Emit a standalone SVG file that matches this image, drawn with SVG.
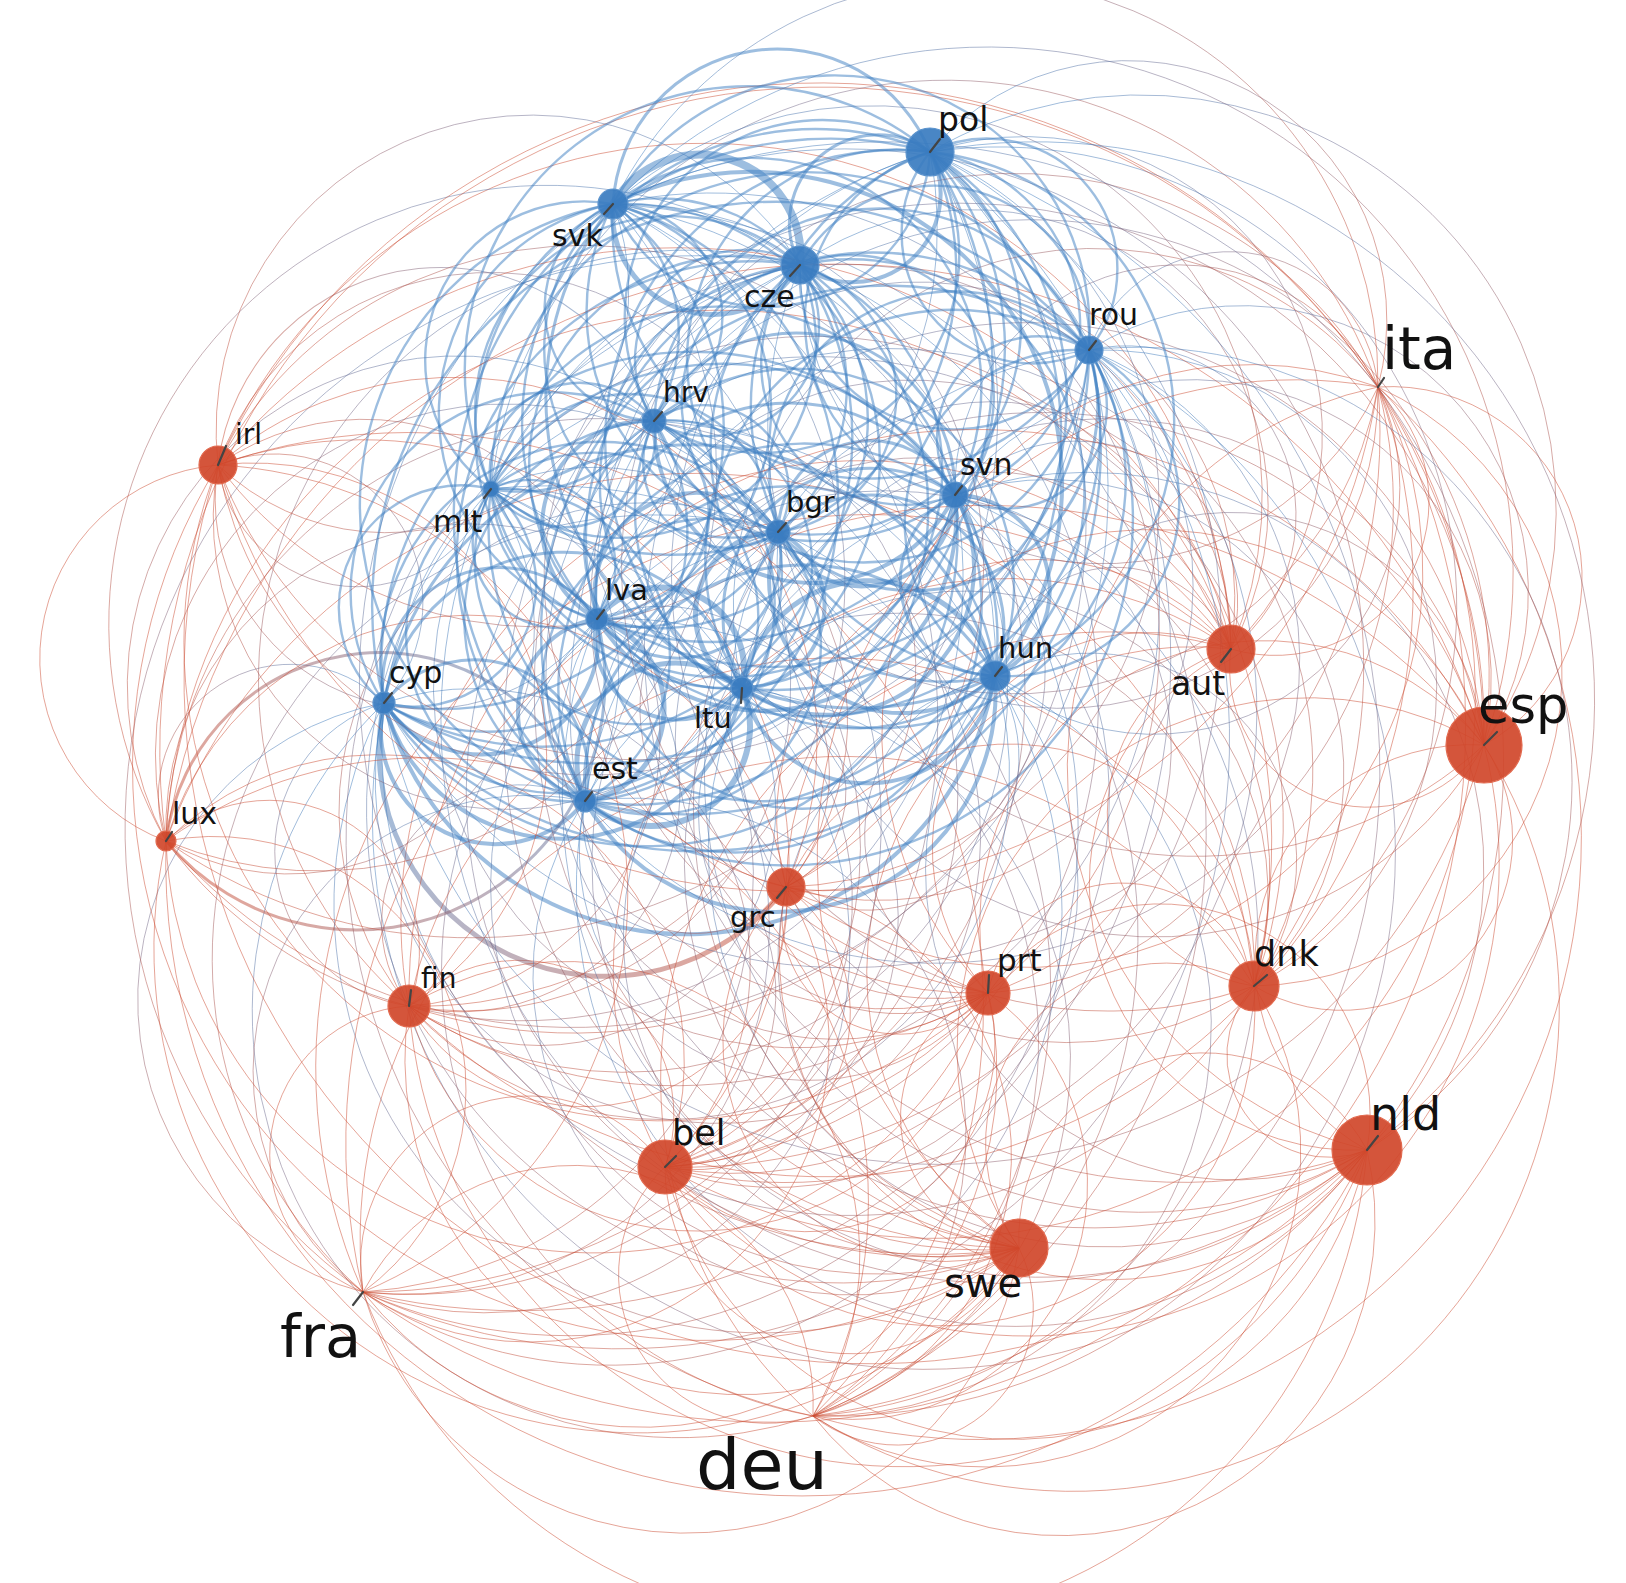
<svg xmlns="http://www.w3.org/2000/svg" width="1626" height="1583" viewBox="0 0 1626 1583">
<style>
.bb{stroke:#3b7dc1;stroke-opacity:.5;stroke-width:2.4}
.rr{stroke:#cb4a30;stroke-opacity:.5;stroke-width:1}
.br{stroke:url(#gbr);stroke-opacity:.5;stroke-width:1}
.rb{stroke:url(#grb);stroke-opacity:.5;stroke-width:1}
.w3{stroke-width:3}.w4{stroke-width:4}.w5{stroke-width:5}.w6{stroke-width:6}.w8{stroke-width:8}
.nr{fill:#d0462a;fill-opacity:.92;stroke:#e2694e;stroke-width:1.2}
.nb{fill:#3a7cc0;fill-opacity:.92;stroke:#5b93cd;stroke-width:1.2}
.tk{stroke:#444;stroke-width:2.2;stroke-linecap:round}
text{font-family:"DejaVu Sans",Verdana,sans-serif;fill:#111}
</style>
<defs>
<path id="e" d="M0 0A.5125 .5125 0 0 0 1 0" fill="none" style="vector-effect:non-scaling-stroke"/>
<path id="f" d="M0 0A.5125 .5125 0 0 1 1 0" fill="none" style="vector-effect:non-scaling-stroke"/>
<linearGradient id="gbr" gradientUnits="userSpaceOnUse" x1="0" y1="0" x2="1" y2="0"><stop offset="0" stop-color="#3b7dc1"/><stop offset="1" stop-color="#cb4a30"/></linearGradient>
<linearGradient id="grb" gradientUnits="userSpaceOnUse" x1="0" y1="0" x2="1" y2="0"><stop offset="0" stop-color="#cb4a30"/><stop offset="1" stop-color="#3b7dc1"/></linearGradient>
</defs>
<rect width="1626" height="1583" fill="#fff"/>
<g id="connectors">
<g transform="translate(1231 649)">
<use href="#e" class="rr" transform="matrix(-566 518 -518 -566 0 0)"/>
<use href="#e" class="rb" transform="matrix(-453 -117 117 -453 0 0)"/>
<use href="#e" class="rb" transform="matrix(-847 54 -54 -847 0 0)"/>
<use href="#e" class="rb" transform="matrix(-431 -384 384 -431 0 0)"/>
<use href="#e" class="rr" transform="matrix(-418 767 -767 -418 0 0)"/>
<use href="#e" class="rr" transform="matrix(23 337 -337 23 0 0)"/>
<use href="#e" class="rr" transform="matrix(253 96 -96 253 0 0)"/>
<use href="#e" class="rb" transform="matrix(-646 152 -152 -646 0 0)"/>
<use href="#e" class="rr" transform="matrix(-822 357 -357 -822 0 0)"/>
<use href="#e" class="rr" transform="matrix(-868 643 -643 -868 0 0)"/>
<use href="#e" class="rr" transform="matrix(-445 238 -238 -445 0 0)"/>
<use href="#e" class="rb" transform="matrix(-577 -228 228 -577 0 0)"/>
<use href="#e" class="rb" transform="matrix(-236 27 -27 -236 0 0)"/>
<use href="#e" class="rr" transform="matrix(-1013 -184 184 -1013 0 0)"/>
<use href="#e" class="rr" transform="matrix(147 -262 262 147 0 0)"/>
<use href="#e" class="rb" transform="matrix(-489 39 -39 -489 0 0)"/>
<use href="#e" class="rr" transform="matrix(-1065 192 -192 -1065 0 0)"/>
<use href="#e" class="rb" transform="matrix(-634 -30 30 -634 0 0)"/>
<use href="#e" class="rb" transform="matrix(-740 -160 160 -740 0 0)"/>
<use href="#e" class="rr" transform="matrix(136 501 -501 136 0 0)"/>
<use href="#e" class="rb" transform="matrix(-301 -497 497 -301 0 0)"/>
<use href="#e" class="rr" transform="matrix(-243 344 -344 -243 0 0)"/>
<use href="#e" class="rb" transform="matrix(-142 -299 299 -142 0 0)"/>
<use href="#e" class="rb" transform="matrix(-618 -445 445 -618 0 0)"/>
<use href="#e" class="rb" transform="matrix(-276 -154 154 -276 0 0)"/>
<use href="#e" class="rr" transform="matrix(-212 599 -599 -212 0 0)"/>
</g>
<g transform="translate(665 1167)">
<use href="#e" class="rb" transform="matrix(113 -635 635 113 0 0)"/>
<use href="#e" class="rb" transform="matrix(-281 -464 464 -281 0 0)"/>
<use href="#e" class="rb" transform="matrix(135 -902 902 135 0 0)"/>
<use href="#e" class="rr" transform="matrix(148 249 -249 148 0 0)"/>
<use href="#e" class="rr" transform="matrix(589 -181 181 589 0 0)"/>
<use href="#e" class="rr" transform="matrix(819 -422 422 819 0 0)"/>
<use href="#e" class="rb" transform="matrix(-80 -366 366 -80 0 0)"/>
<use href="#e" class="rr" transform="matrix(-256 -161 161 -256 0 0)"/>
<use href="#e" class="rr" transform="matrix(-302 125 -125 -302 0 0)"/>
<use href="#e" class="rr" transform="matrix(121 -280 280 121 0 0)"/>
<use href="#e" class="rb" transform="matrix(-11 -746 746 -11 0 0)"/>
<use href="#e" class="rb" transform="matrix(330 -491 491 330 0 0)"/>
<use href="#e" class="rr" transform="matrix(-447 -702 702 -447 0 0)"/>
<use href="#e" class="rr" transform="matrix(713 -780 780 713 0 0)"/>
<use href="#e" class="rb" transform="matrix(77 -479 479 77 0 0)"/>
<use href="#e" class="rr" transform="matrix(-499 -326 326 -499 0 0)"/>
<use href="#e" class="rb" transform="matrix(-68 -548 548 -68 0 0)"/>
<use href="#e" class="rb" transform="matrix(-174 -678 678 -174 0 0)"/>
<use href="#e" class="rr" transform="matrix(702 -17 17 702 0 0)"/>
<use href="#e" class="rb" transform="matrix(265 -1015 1015 265 0 0)"/>
<use href="#e" class="rr" transform="matrix(323 -174 174 323 0 0)"/>
<use href="#e" class="rb" transform="matrix(424 -817 817 424 0 0)"/>
<use href="#e" class="rb" transform="matrix(-52 -963 963 -52 0 0)"/>
<use href="#e" class="rb" transform="matrix(290 -672 672 290 0 0)"/>
<use href="#e" class="rr" transform="matrix(354 81 -81 354 0 0)"/>
</g>
<g transform="translate(778 532)">
<use href="#e" class="bb" transform="matrix(-394 171 -171 -394 0 0)"/>
<use href="#e" class="bb" transform="matrix(22 -267 267 22 0 0)"/>
<use href="#e" class="br" transform="matrix(35 884 -884 35 0 0)"/>
<use href="#e" class="br" transform="matrix(476 454 -454 476 0 0)"/>
<use href="#e" class="br" transform="matrix(706 213 -213 706 0 0)"/>
<use href="#e" class="bb" transform="matrix(-193 269 -269 -193 0 0)"/>
<use href="#e" class="br" transform="matrix(-369 474 -474 -369 0 0)"/>
<use href="#e" class="br" transform="matrix(-415 760 -760 -415 0 0)"/>
<use href="#e" class="br" transform="matrix(8 355 -355 8 0 0)"/>
<use href="#e" class="bb" transform="matrix(-124 -111 111 -124 0 0)"/>
<use href="#e" class="bb w4" transform="matrix(217 144 -144 217 0 0)"/>
<use href="#e" class="br" transform="matrix(-560 -67 67 -560 0 0)"/>
<use href="#e" class="br" transform="matrix(600 -145 145 600 0 0)"/>
<use href="#e" class="bb w5" transform="matrix(-36 156 -156 -36 0 0)"/>
<use href="#e" class="br" transform="matrix(-612 309 -309 -612 0 0)"/>
<use href="#e" class="bb w4" transform="matrix(-181 87 -87 -181 0 0)"/>
<use href="#e" class="bb" transform="matrix(-287 -43 43 -287 0 0)"/>
<use href="#e" class="br" transform="matrix(589 618 -618 589 0 0)"/>
<use href="#e" class="bb" transform="matrix(152 -380 380 152 0 0)"/>
<use href="#e" class="br" transform="matrix(210 461 -461 210 0 0)"/>
<use href="#e" class="bb w3" transform="matrix(311 -182 182 311 0 0)"/>
<use href="#e" class="bb" transform="matrix(-165 -328 328 -165 0 0)"/>
<use href="#e" class="bb w4" transform="matrix(177 -37 37 177 0 0)"/>
<use href="#e" class="br" transform="matrix(241 716 -716 241 0 0)"/>
</g>
<g transform="translate(384 703)">
<use href="#e" class="bb" transform="matrix(416 -438 438 416 0 0)"/>
<use href="#e" class="br" transform="matrix(429 713 -713 429 0 0)"/>
<use href="#e" class="br" transform="matrix(870 283 -283 870 0 0)"/>
<use href="#e" class="br" transform="matrix(1100 42 -42 1100 0 0)"/>
<use href="#e" class="bb w4" transform="matrix(201 98 -98 201 0 0)"/>
<use href="#e" class="br" transform="matrix(25 303 -303 25 0 0)"/>
<use href="#e" class="br" transform="matrix(-21 589 -589 -21 0 0)"/>
<use href="#e" class="br w5" transform="matrix(402 184 -184 402 0 0)"/>
<use href="#e" class="bb" transform="matrix(270 -282 282 270 0 0)"/>
<use href="#e" class="bb w4" transform="matrix(611 -27 27 611 0 0)"/>
<use href="#e" class="br" transform="matrix(-166 -238 238 -166 0 0)"/>
<use href="#e" class="br" transform="matrix(994 -316 316 994 0 0)"/>
<use href="#e" class="bb w4" transform="matrix(358 -15 15 358 0 0)"/>
<use href="#e" class="br" transform="matrix(-218 138 -138 -218 0 0)"/>
<use href="#e" class="bb w4" transform="matrix(213 -84 84 213 0 0)"/>
<use href="#e" class="bb" transform="matrix(107 -214 214 107 0 0)"/>
<use href="#e" class="br" transform="matrix(983 447 -447 983 0 0)"/>
<use href="#e" class="bb" transform="matrix(546 -551 551 546 0 0)"/>
<use href="#e" class="br" transform="matrix(604 290 -290 604 0 0)"/>
<use href="#e" class="bb" transform="matrix(705 -353 353 705 0 0)"/>
<use href="#e" class="bb" transform="matrix(229 -499 499 229 0 0)"/>
<use href="#e" class="bb" transform="matrix(571 -208 208 571 0 0)"/>
<use href="#e" class="br" transform="matrix(635 545 -545 635 0 0)"/>
</g>
<g transform="translate(800 265)">
<use href="#e" class="br" transform="matrix(13 1151 -1151 13 0 0)"/>
<use href="#e" class="br" transform="matrix(454 721 -721 454 0 0)"/>
<use href="#e" class="br" transform="matrix(684 480 -480 684 0 0)"/>
<use href="#e" class="bb" transform="matrix(-215 536 -536 -215 0 0)"/>
<use href="#e" class="br" transform="matrix(-391 741 -741 -391 0 0)"/>
<use href="#e" class="br" transform="matrix(-437 1027 -1027 -437 0 0)"/>
<use href="#e" class="br" transform="matrix(-14 622 -622 -14 0 0)"/>
<use href="#e" class="bb" transform="matrix(-146 156 -156 -146 0 0)"/>
<use href="#e" class="bb" transform="matrix(195 411 -411 195 0 0)"/>
<use href="#e" class="br" transform="matrix(-582 200 -200 -582 0 0)"/>
<use href="#e" class="br" transform="matrix(578 122 -122 578 0 0)"/>
<use href="#e" class="bb" transform="matrix(-58 423 -423 -58 0 0)"/>
<use href="#e" class="br" transform="matrix(-634 576 -576 -634 0 0)"/>
<use href="#e" class="bb" transform="matrix(-203 354 -354 -203 0 0)"/>
<use href="#e" class="bb" transform="matrix(-309 224 -224 -309 0 0)"/>
<use href="#e" class="br" transform="matrix(567 885 -885 567 0 0)"/>
<use href="#e" class="bb w4" transform="matrix(130 -113 113 130 0 0)"/>
<use href="#e" class="br" transform="matrix(188 728 -728 188 0 0)"/>
<use href="#e" class="bb" transform="matrix(289 85 -85 289 0 0)"/>
<use href="#e" class="bb w8" transform="matrix(-187 -61 61 -187 0 0)"/>
<use href="#e" class="bb" transform="matrix(155 230 -230 155 0 0)"/>
<use href="#e" class="br" transform="matrix(219 983 -983 219 0 0)"/>
</g>
<g transform="translate(813 1416)">
<use href="#e" class="rr" transform="matrix(441 -430 430 441 0 0)"/>
<use href="#e" class="rr" transform="matrix(671 -671 671 671 0 0)"/>
<use href="#e" class="rb" transform="matrix(-228 -615 615 -228 0 0)"/>
<use href="#e" class="rr" transform="matrix(-404 -410 410 -404 0 0)"/>
<use href="#e" class="rr" transform="matrix(-450 -124 124 -450 0 0)"/>
<use href="#e" class="rr" transform="matrix(-27 -529 529 -27 0 0)"/>
<use href="#e" class="rb" transform="matrix(-159 -995 995 -159 0 0)"/>
<use href="#e" class="rb" transform="matrix(182 -740 740 182 0 0)"/>
<use href="#e" class="rr" transform="matrix(-595 -951 951 -595 0 0)"/>
<use href="#e" class="rr" transform="matrix(565 -1029 1029 565 0 0)"/>
<use href="#e" class="rb" transform="matrix(-71 -728 728 -71 0 0)"/>
<use href="#e" class="rr" transform="matrix(-647 -575 575 -647 0 0)"/>
<use href="#e" class="rb" transform="matrix(-216 -797 797 -216 0 0)"/>
<use href="#e" class="rb" transform="matrix(-322 -927 927 -322 0 0)"/>
<use href="#e" class="rr" transform="matrix(554 -266 266 554 0 0)"/>
<use href="#e" class="rb" transform="matrix(117 -1264 1264 117 0 0)"/>
<use href="#e" class="rr" transform="matrix(175 -423 423 175 0 0)"/>
<use href="#e" class="rb" transform="matrix(276 -1066 1066 276 0 0)"/>
<use href="#e" class="rb" transform="matrix(-200 -1212 1212 -200 0 0)"/>
<use href="#e" class="rb" transform="matrix(142 -921 921 142 0 0)"/>
<use href="#e" class="rr" transform="matrix(206 -168 168 206 0 0)"/>
</g>
<g transform="translate(1254 986)">
<use href="#e" class="rr" transform="matrix(230 -241 241 230 0 0)"/>
<use href="#e" class="rb" transform="matrix(-669 -185 185 -669 0 0)"/>
<use href="#e" class="rr" transform="matrix(-845 20 -20 -845 0 0)"/>
<use href="#e" class="rr" transform="matrix(-891 306 -306 -891 0 0)"/>
<use href="#e" class="rr" transform="matrix(-468 -99 99 -468 0 0)"/>
<use href="#e" class="rb" transform="matrix(-600 -565 565 -600 0 0)"/>
<use href="#e" class="rb" transform="matrix(-259 -310 310 -259 0 0)"/>
<use href="#e" class="rr" transform="matrix(-1036 -521 521 -1036 0 0)"/>
<use href="#e" class="rr" transform="matrix(124 -599 599 124 0 0)"/>
<use href="#e" class="rb" transform="matrix(-512 -298 298 -512 0 0)"/>
<use href="#e" class="rr" transform="matrix(-1088 -145 145 -1088 0 0)"/>
<use href="#e" class="rb" transform="matrix(-657 -367 367 -657 0 0)"/>
<use href="#e" class="rb" transform="matrix(-763 -497 497 -763 0 0)"/>
<use href="#e" class="rr" transform="matrix(113 164 -164 113 0 0)"/>
<use href="#e" class="rb" transform="matrix(-324 -834 834 -324 0 0)"/>
<use href="#e" class="rr" transform="matrix(-266 7 -7 -266 0 0)"/>
<use href="#e" class="rb" transform="matrix(-165 -636 636 -165 0 0)"/>
<use href="#e" class="rb" transform="matrix(-641 -782 782 -641 0 0)"/>
<use href="#e" class="rb" transform="matrix(-299 -491 491 -299 0 0)"/>
<use href="#e" class="rr" transform="matrix(-235 262 -262 -235 0 0)"/>
</g>
<g transform="translate(1484 745)">
<use href="#e" class="rb" transform="matrix(-899 56 -56 -899 0 0)"/>
<use href="#e" class="rr" transform="matrix(-1075 261 -261 -1075 0 0)"/>
<use href="#e" class="rr" transform="matrix(-1121 547 -547 -1121 0 0)"/>
<use href="#e" class="rr" transform="matrix(-698 142 -142 -698 0 0)"/>
<use href="#e" class="rb" transform="matrix(-830 -324 324 -830 0 0)"/>
<use href="#e" class="rb" transform="matrix(-489 -69 69 -489 0 0)"/>
<use href="#e" class="rr" transform="matrix(-1266 -280 280 -1266 0 0)"/>
<use href="#e" class="rr" transform="matrix(-106 -358 358 -106 0 0)"/>
<use href="#e" class="rb" transform="matrix(-742 -57 57 -742 0 0)"/>
<use href="#e" class="rr" transform="matrix(-1318 96 -96 -1318 0 0)"/>
<use href="#e" class="rb" transform="matrix(-887 -126 126 -887 0 0)"/>
<use href="#e" class="rb" transform="matrix(-993 -256 256 -993 0 0)"/>
<use href="#e" class="rr" transform="matrix(-117 405 -405 -117 0 0)"/>
<use href="#e" class="rb" transform="matrix(-554 -593 593 -554 0 0)"/>
<use href="#e" class="rr" transform="matrix(-496 248 -248 -496 0 0)"/>
<use href="#e" class="rb" transform="matrix(-395 -395 395 -395 0 0)"/>
<use href="#e" class="rb" transform="matrix(-871 -541 541 -871 0 0)"/>
<use href="#e" class="rb" transform="matrix(-529 -250 250 -529 0 0)"/>
<use href="#e" class="rr" transform="matrix(-465 503 -503 -465 0 0)"/>
</g>
<g transform="translate(585 801)">
<use href="#e" class="br" transform="matrix(-176 205 -205 -176 0 0)"/>
<use href="#e" class="br" transform="matrix(-222 491 -491 -222 0 0)"/>
<use href="#e" class="br" transform="matrix(201 86 -86 201 0 0)"/>
<use href="#e" class="bb" transform="matrix(69 -380 380 69 0 0)"/>
<use href="#e" class="bb w4" transform="matrix(410 -125 125 410 0 0)"/>
<use href="#e" class="br" transform="matrix(-367 -336 336 -367 0 0)"/>
<use href="#e" class="br" transform="matrix(793 -414 414 793 0 0)"/>
<use href="#e" class="bb w6" transform="matrix(157 -113 113 157 0 0)"/>
<use href="#e" class="br w3" transform="matrix(-419 40 -40 -419 0 0)"/>
<use href="#e" class="bb w5" transform="matrix(12 -182 182 12 0 0)"/>
<use href="#e" class="bb" transform="matrix(-94 -312 312 -94 0 0)"/>
<use href="#e" class="br" transform="matrix(782 349 -349 782 0 0)"/>
<use href="#e" class="bb" transform="matrix(345 -649 649 345 0 0)"/>
<use href="#e" class="br" transform="matrix(403 192 -192 403 0 0)"/>
<use href="#e" class="bb" transform="matrix(504 -451 451 504 0 0)"/>
<use href="#e" class="bb" transform="matrix(28 -597 597 28 0 0)"/>
<use href="#e" class="bb" transform="matrix(370 -306 306 370 0 0)"/>
<use href="#e" class="br" transform="matrix(434 447 -447 434 0 0)"/>
</g>
<g transform="translate(409 1006)">
<use href="#e" class="rr" transform="matrix(-46 286 -286 -46 0 0)"/>
<use href="#e" class="rr" transform="matrix(377 -119 119 377 0 0)"/>
<use href="#e" class="rb" transform="matrix(245 -585 585 245 0 0)"/>
<use href="#e" class="rb" transform="matrix(586 -330 330 586 0 0)"/>
<use href="#e" class="rr" transform="matrix(-191 -541 541 -191 0 0)"/>
<use href="#e" class="rr" transform="matrix(969 -619 619 969 0 0)"/>
<use href="#e" class="rb" transform="matrix(333 -318 318 333 0 0)"/>
<use href="#e" class="rr" transform="matrix(-243 -165 165 -243 0 0)"/>
<use href="#e" class="rb" transform="matrix(188 -387 387 188 0 0)"/>
<use href="#e" class="rb" transform="matrix(82 -517 517 82 0 0)"/>
<use href="#e" class="rr" transform="matrix(958 144 -144 958 0 0)"/>
<use href="#e" class="rb" transform="matrix(521 -854 854 521 0 0)"/>
<use href="#e" class="rr" transform="matrix(579 -13 13 579 0 0)"/>
<use href="#e" class="rb" transform="matrix(680 -656 656 680 0 0)"/>
<use href="#e" class="rb" transform="matrix(204 -802 802 204 0 0)"/>
<use href="#e" class="rb" transform="matrix(546 -511 511 546 0 0)"/>
<use href="#e" class="rr" transform="matrix(610 242 -242 610 0 0)"/>
</g>
<g transform="translate(363 1292)">
<use href="#e" class="rr" transform="matrix(423 -405 405 423 0 0)"/>
<use href="#e" class="rb" transform="matrix(291 -871 871 291 0 0)"/>
<use href="#e" class="rb" transform="matrix(632 -616 616 632 0 0)"/>
<use href="#e" class="rr" transform="matrix(-145 -827 827 -145 0 0)"/>
<use href="#e" class="rr" transform="matrix(1015 -905 905 1015 0 0)"/>
<use href="#e" class="rb" transform="matrix(379 -604 604 379 0 0)"/>
<use href="#e" class="rr" transform="matrix(-197 -451 451 -197 0 0)"/>
<use href="#e" class="rb" transform="matrix(234 -673 673 234 0 0)"/>
<use href="#e" class="rb" transform="matrix(128 -803 803 128 0 0)"/>
<use href="#e" class="rr" transform="matrix(1004 -142 142 1004 0 0)"/>
<use href="#e" class="rb" transform="matrix(567 -1140 1140 567 0 0)"/>
<use href="#e" class="rr" transform="matrix(625 -299 299 625 0 0)"/>
<use href="#e" class="rb" transform="matrix(726 -942 942 726 0 0)"/>
<use href="#e" class="rb" transform="matrix(250 -1088 1088 250 0 0)"/>
<use href="#e" class="rb" transform="matrix(592 -797 797 592 0 0)"/>
<use href="#e" class="rr" transform="matrix(656 -44 44 656 0 0)"/>
</g>
<g transform="translate(786 887)">
<use href="#e" class="rb" transform="matrix(-132 -466 466 -132 0 0)"/>
<use href="#e" class="rb" transform="matrix(209 -211 211 209 0 0)"/>
<use href="#e" class="rr" transform="matrix(-568 -422 422 -568 0 0)"/>
<use href="#e" class="rr" transform="matrix(592 -500 500 592 0 0)"/>
<use href="#e" class="rb" transform="matrix(-44 -199 199 -44 0 0)"/>
<use href="#e" class="rr" transform="matrix(-620 -46 46 -620 0 0)"/>
<use href="#e" class="rb" transform="matrix(-189 -268 268 -189 0 0)"/>
<use href="#e" class="rb" transform="matrix(-295 -398 398 -295 0 0)"/>
<use href="#e" class="rr" transform="matrix(581 263 -263 581 0 0)"/>
<use href="#e" class="rb" transform="matrix(144 -735 735 144 0 0)"/>
<use href="#e" class="rr" transform="matrix(202 106 -106 202 0 0)"/>
<use href="#e" class="rb" transform="matrix(303 -537 537 303 0 0)"/>
<use href="#e" class="rb" transform="matrix(-173 -683 683 -173 0 0)"/>
<use href="#e" class="rb" transform="matrix(169 -392 392 169 0 0)"/>
<use href="#e" class="rr" transform="matrix(233 361 -361 233 0 0)"/>
</g>
<g transform="translate(654 421)">
<use href="#e" class="bb" transform="matrix(341 255 -255 341 0 0)"/>
<use href="#e" class="br" transform="matrix(-436 44 -44 -436 0 0)"/>
<use href="#e" class="br" transform="matrix(724 -34 34 724 0 0)"/>
<use href="#e" class="bb" transform="matrix(88 267 -267 88 0 0)"/>
<use href="#e" class="br" transform="matrix(-488 420 -420 -488 0 0)"/>
<use href="#e" class="bb w4" transform="matrix(-57 198 -198 -57 0 0)"/>
<use href="#e" class="bb" transform="matrix(-163 68 -68 -163 0 0)"/>
<use href="#e" class="br" transform="matrix(713 729 -729 713 0 0)"/>
<use href="#e" class="bb" transform="matrix(276 -269 269 276 0 0)"/>
<use href="#e" class="br" transform="matrix(334 572 -572 334 0 0)"/>
<use href="#e" class="bb" transform="matrix(435 -71 71 435 0 0)"/>
<use href="#e" class="bb" transform="matrix(-41 -217 217 -41 0 0)"/>
<use href="#e" class="bb w4" transform="matrix(301 74 -74 301 0 0)"/>
<use href="#e" class="br" transform="matrix(365 827 -827 365 0 0)"/>
</g>
<g transform="translate(995 676)">
<use href="#e" class="br" transform="matrix(-777 -211 211 -777 0 0)"/>
<use href="#e" class="br" transform="matrix(383 -289 289 383 0 0)"/>
<use href="#e" class="bb w5" transform="matrix(-253 12 -12 -253 0 0)"/>
<use href="#e" class="br" transform="matrix(-829 165 -165 -829 0 0)"/>
<use href="#e" class="bb" transform="matrix(-398 -57 57 -398 0 0)"/>
<use href="#e" class="bb" transform="matrix(-504 -187 187 -504 0 0)"/>
<use href="#e" class="br" transform="matrix(372 474 -474 372 0 0)"/>
<use href="#e" class="bb" transform="matrix(-65 -524 524 -65 0 0)"/>
<use href="#e" class="br" transform="matrix(-7 317 -317 -7 0 0)"/>
<use href="#e" class="bb" transform="matrix(94 -326 326 94 0 0)"/>
<use href="#e" class="bb w4" transform="matrix(-382 -472 472 -382 0 0)"/>
<use href="#e" class="bb w4" transform="matrix(-40 -181 181 -40 0 0)"/>
<use href="#e" class="br" transform="matrix(24 572 -572 24 0 0)"/>
</g>
<g transform="translate(218 465)">
<use href="#e" class="rr" transform="matrix(1160 -78 78 1160 0 0)"/>
<use href="#e" class="rb" transform="matrix(524 223 -223 524 0 0)"/>
<use href="#e" class="rr" transform="matrix(-52 376 -376 -52 0 0)"/>
<use href="#e" class="rb" transform="matrix(379 154 -154 379 0 0)"/>
<use href="#e" class="rb" transform="matrix(273 24 -24 273 0 0)"/>
<use href="#e" class="rr" transform="matrix(1149 685 -685 1149 0 0)"/>
<use href="#e" class="rb" transform="matrix(712 -313 313 712 0 0)"/>
<use href="#e" class="rr" transform="matrix(770 528 -528 770 0 0)"/>
<use href="#e" class="rb" transform="matrix(871 -115 115 871 0 0)"/>
<use href="#e" class="rb" transform="matrix(395 -261 261 395 0 0)"/>
<use href="#e" class="rb" transform="matrix(737 30 -30 737 0 0)"/>
<use href="#e" class="rr" transform="matrix(801 783 -783 801 0 0)"/>
</g>
<g transform="translate(1378 387)">
<use href="#e" class="rb" transform="matrix(-636 301 -301 -636 0 0)"/>
<use href="#e" class="rr" transform="matrix(-1212 454 -454 -1212 0 0)"/>
<use href="#e" class="rb" transform="matrix(-781 232 -232 -781 0 0)"/>
<use href="#e" class="rb" transform="matrix(-887 102 -102 -887 0 0)"/>
<use href="#e" class="rr" transform="matrix(-11 763 -763 -11 0 0)"/>
<use href="#e" class="rb" transform="matrix(-448 -235 235 -448 0 0)"/>
<use href="#e" class="rr" transform="matrix(-390 606 -606 -390 0 0)"/>
<use href="#e" class="rb" transform="matrix(-289 -37 37 -289 0 0)"/>
<use href="#e" class="rb" transform="matrix(-765 -183 183 -765 0 0)"/>
<use href="#e" class="rb" transform="matrix(-423 108 -108 -423 0 0)"/>
<use href="#e" class="rr" transform="matrix(-359 861 -861 -359 0 0)"/>
</g>
<g transform="translate(742 688)">
<use href="#e" class="br" transform="matrix(-576 153 -153 -576 0 0)"/>
<use href="#e" class="bb w6" transform="matrix(-145 -69 69 -145 0 0)"/>
<use href="#e" class="bb" transform="matrix(-251 -199 199 -251 0 0)"/>
<use href="#e" class="br" transform="matrix(625 462 -462 625 0 0)"/>
<use href="#e" class="bb" transform="matrix(188 -536 536 188 0 0)"/>
<use href="#e" class="br" transform="matrix(246 305 -305 246 0 0)"/>
<use href="#e" class="bb" transform="matrix(347 -338 338 347 0 0)"/>
<use href="#e" class="bb" transform="matrix(-129 -484 484 -129 0 0)"/>
<use href="#e" class="bb w4" transform="matrix(213 -193 193 213 0 0)"/>
<use href="#e" class="br" transform="matrix(277 560 -560 277 0 0)"/>
</g>
<g transform="translate(166 841)">
<use href="#e" class="rb w3" transform="matrix(431 -222 222 431 0 0)"/>
<use href="#e" class="rb" transform="matrix(325 -352 352 325 0 0)"/>
<use href="#e" class="rr" transform="matrix(1201 309 -309 1201 0 0)"/>
<use href="#e" class="rb" transform="matrix(764 -689 689 764 0 0)"/>
<use href="#e" class="rr" transform="matrix(822 152 -152 822 0 0)"/>
<use href="#e" class="rb" transform="matrix(923 -491 491 923 0 0)"/>
<use href="#e" class="rb" transform="matrix(447 -637 637 447 0 0)"/>
<use href="#e" class="rb" transform="matrix(789 -346 346 789 0 0)"/>
<use href="#e" class="rr" transform="matrix(853 407 -407 853 0 0)"/>
</g>
<g transform="translate(597 619)">
<use href="#e" class="bb" transform="matrix(-106 -130 130 -106 0 0)"/>
<use href="#e" class="br" transform="matrix(770 531 -531 770 0 0)"/>
<use href="#e" class="bb" transform="matrix(333 -467 467 333 0 0)"/>
<use href="#e" class="br" transform="matrix(391 374 -374 391 0 0)"/>
<use href="#e" class="bb" transform="matrix(492 -269 269 492 0 0)"/>
<use href="#e" class="bb" transform="matrix(16 -415 415 16 0 0)"/>
<use href="#e" class="bb w4" transform="matrix(358 -124 124 358 0 0)"/>
<use href="#e" class="br" transform="matrix(422 629 -629 422 0 0)"/>
</g>
<g transform="translate(491 489)">
<use href="#e" class="br" transform="matrix(876 661 -661 876 0 0)"/>
<use href="#e" class="bb" transform="matrix(439 -337 337 439 0 0)"/>
<use href="#e" class="br" transform="matrix(497 504 -504 497 0 0)"/>
<use href="#e" class="bb" transform="matrix(598 -139 139 598 0 0)"/>
<use href="#e" class="bb" transform="matrix(122 -285 285 122 0 0)"/>
<use href="#e" class="bb" transform="matrix(464 6 -6 464 0 0)"/>
<use href="#e" class="br" transform="matrix(528 759 -759 528 0 0)"/>
</g>
<g transform="translate(1367 1150)">
<use href="#e" class="rb" transform="matrix(-437 -998 998 -437 0 0)"/>
<use href="#e" class="rr" transform="matrix(-379 -157 157 -379 0 0)"/>
<use href="#e" class="rb" transform="matrix(-278 -800 800 -278 0 0)"/>
<use href="#e" class="rb" transform="matrix(-754 -946 946 -754 0 0)"/>
<use href="#e" class="rb" transform="matrix(-412 -655 655 -412 0 0)"/>
<use href="#e" class="rr" transform="matrix(-348 98 -98 -348 0 0)"/>
</g>
<g transform="translate(930 152)">
<use href="#e" class="br" transform="matrix(58 841 -841 58 0 0)"/>
<use href="#e" class="bb" transform="matrix(159 198 -198 159 0 0)"/>
<use href="#e" class="bb w3" transform="matrix(-317 52 -52 -317 0 0)"/>
<use href="#e" class="bb" transform="matrix(25 343 -343 25 0 0)"/>
<use href="#e" class="br" transform="matrix(89 1096 -1096 89 0 0)"/>
</g>
<g transform="translate(988 993)">
<use href="#e" class="rb" transform="matrix(101 -643 643 101 0 0)"/>
<use href="#e" class="rb" transform="matrix(-375 -789 789 -375 0 0)"/>
<use href="#e" class="rb" transform="matrix(-33 -498 498 -33 0 0)"/>
<use href="#e" class="rr" transform="matrix(31 255 -255 31 0 0)"/>
</g>
<g transform="translate(1089 350)">
<use href="#e" class="bb" transform="matrix(-476 -146 146 -476 0 0)"/>
<use href="#e" class="bb" transform="matrix(-134 145 -145 -134 0 0)"/>
<use href="#e" class="br" transform="matrix(-70 898 -898 -70 0 0)"/>
</g>
<g transform="translate(613 204)">
<use href="#e" class="bb" transform="matrix(342 291 -291 342 0 0)"/>
<use href="#e" class="br" transform="matrix(406 1044 -1044 406 0 0)"/>
</g>
<g transform="translate(955 495)">
<use href="#e" class="br" transform="matrix(64 753 -753 64 0 0)"/>
</g>
<g transform="translate(778 532)">
<use href="#f" class="bb" transform="matrix(-394 171 -171 -394 0 0)"/>
<use href="#f" class="bb" transform="matrix(22 -267 267 22 0 0)"/>
<use href="#f" class="bb" transform="matrix(-193 269 -269 -193 0 0)"/>
<use href="#f" class="bb" transform="matrix(-124 -111 111 -124 0 0)"/>
<use href="#f" class="bb w3" transform="matrix(217 144 -144 217 0 0)"/>
<use href="#f" class="bb w4" transform="matrix(-36 156 -156 -36 0 0)"/>
<use href="#f" class="bb w3" transform="matrix(-181 87 -87 -181 0 0)"/>
<use href="#f" class="bb" transform="matrix(-287 -43 43 -287 0 0)"/>
<use href="#f" class="bb" transform="matrix(152 -380 380 152 0 0)"/>
<use href="#f" class="bb" transform="matrix(311 -182 182 311 0 0)"/>
<use href="#f" class="bb" transform="matrix(-165 -328 328 -165 0 0)"/>
<use href="#f" class="bb w3" transform="matrix(177 -37 37 177 0 0)"/>
</g>
<g transform="translate(384 703)">
<use href="#f" class="bb w3" transform="matrix(201 98 -98 201 0 0)"/>
<use href="#f" class="bb" transform="matrix(270 -282 282 270 0 0)"/>
<use href="#f" class="bb w3" transform="matrix(611 -27 27 611 0 0)"/>
<use href="#f" class="bb w3" transform="matrix(358 -15 15 358 0 0)"/>
<use href="#f" class="bb w3" transform="matrix(213 -84 84 213 0 0)"/>
<use href="#f" class="bb" transform="matrix(107 -214 214 107 0 0)"/>
<use href="#f" class="bb" transform="matrix(705 -353 353 705 0 0)"/>
<use href="#f" class="bb" transform="matrix(571 -208 208 571 0 0)"/>
</g>
<g transform="translate(800 265)">
<use href="#f" class="bb" transform="matrix(-215 536 -536 -215 0 0)"/>
<use href="#f" class="bb" transform="matrix(-146 156 -156 -146 0 0)"/>
<use href="#f" class="bb" transform="matrix(195 411 -411 195 0 0)"/>
<use href="#f" class="bb" transform="matrix(-58 423 -423 -58 0 0)"/>
<use href="#f" class="bb" transform="matrix(-203 354 -354 -203 0 0)"/>
<use href="#f" class="bb" transform="matrix(-309 224 -224 -309 0 0)"/>
<use href="#f" class="bb w3" transform="matrix(130 -113 113 130 0 0)"/>
<use href="#f" class="bb" transform="matrix(289 85 -85 289 0 0)"/>
<use href="#f" class="bb w5" transform="matrix(-187 -61 61 -187 0 0)"/>
<use href="#f" class="bb" transform="matrix(155 230 -230 155 0 0)"/>
</g>
<g transform="translate(585 801)">
<use href="#f" class="bb" transform="matrix(69 -380 380 69 0 0)"/>
<use href="#f" class="bb w3" transform="matrix(410 -125 125 410 0 0)"/>
<use href="#f" class="bb w5" transform="matrix(157 -113 113 157 0 0)"/>
<use href="#f" class="bb w4" transform="matrix(12 -182 182 12 0 0)"/>
<use href="#f" class="bb" transform="matrix(-94 -312 312 -94 0 0)"/>
<use href="#f" class="bb" transform="matrix(345 -649 649 345 0 0)"/>
<use href="#f" class="bb" transform="matrix(504 -451 451 504 0 0)"/>
<use href="#f" class="bb" transform="matrix(28 -597 597 28 0 0)"/>
<use href="#f" class="bb" transform="matrix(370 -306 306 370 0 0)"/>
</g>
<g transform="translate(654 421)">
<use href="#f" class="bb" transform="matrix(341 255 -255 341 0 0)"/>
<use href="#f" class="bb" transform="matrix(88 267 -267 88 0 0)"/>
<use href="#f" class="bb w3" transform="matrix(-57 198 -198 -57 0 0)"/>
<use href="#f" class="bb" transform="matrix(-163 68 -68 -163 0 0)"/>
<use href="#f" class="bb" transform="matrix(276 -269 269 276 0 0)"/>
<use href="#f" class="bb" transform="matrix(435 -71 71 435 0 0)"/>
<use href="#f" class="bb" transform="matrix(-41 -217 217 -41 0 0)"/>
<use href="#f" class="bb w3" transform="matrix(301 74 -74 301 0 0)"/>
</g>
<g transform="translate(995 676)">
<use href="#f" class="bb w4" transform="matrix(-253 12 -12 -253 0 0)"/>
<use href="#f" class="bb" transform="matrix(-398 -57 57 -398 0 0)"/>
<use href="#f" class="bb" transform="matrix(-504 -187 187 -504 0 0)"/>
<use href="#f" class="bb" transform="matrix(-65 -524 524 -65 0 0)"/>
<use href="#f" class="bb" transform="matrix(94 -326 326 94 0 0)"/>
<use href="#f" class="bb w3" transform="matrix(-382 -472 472 -382 0 0)"/>
<use href="#f" class="bb w3" transform="matrix(-40 -181 181 -40 0 0)"/>
</g>
<g transform="translate(742 688)">
<use href="#f" class="bb w4" transform="matrix(-145 -69 69 -145 0 0)"/>
<use href="#f" class="bb" transform="matrix(-251 -199 199 -251 0 0)"/>
<use href="#f" class="bb" transform="matrix(188 -536 536 188 0 0)"/>
<use href="#f" class="bb" transform="matrix(347 -338 338 347 0 0)"/>
<use href="#f" class="bb" transform="matrix(-129 -484 484 -129 0 0)"/>
<use href="#f" class="bb w3" transform="matrix(213 -193 193 213 0 0)"/>
</g>
<g transform="translate(597 619)">
<use href="#f" class="bb" transform="matrix(-106 -130 130 -106 0 0)"/>
<use href="#f" class="bb" transform="matrix(333 -467 467 333 0 0)"/>
<use href="#f" class="bb" transform="matrix(492 -269 269 492 0 0)"/>
<use href="#f" class="bb" transform="matrix(16 -415 415 16 0 0)"/>
<use href="#f" class="bb w3" transform="matrix(358 -124 124 358 0 0)"/>
</g>
<g transform="translate(491 489)">
<use href="#f" class="bb" transform="matrix(439 -337 337 439 0 0)"/>
<use href="#f" class="bb" transform="matrix(598 -139 139 598 0 0)"/>
<use href="#f" class="bb" transform="matrix(122 -285 285 122 0 0)"/>
<use href="#f" class="bb" transform="matrix(464 6 -6 464 0 0)"/>
</g>
<g transform="translate(930 152)">
<use href="#f" class="bb" transform="matrix(159 198 -198 159 0 0)"/>
<use href="#f" class="bb" transform="matrix(-317 52 -52 -317 0 0)"/>
<use href="#f" class="bb" transform="matrix(25 343 -343 25 0 0)"/>
</g>
<g transform="translate(1089 350)">
<use href="#f" class="bb" transform="matrix(-476 -146 146 -476 0 0)"/>
<use href="#f" class="bb" transform="matrix(-134 145 -145 -134 0 0)"/>
</g>
<g transform="translate(613 204)">
<use href="#f" class="bb" transform="matrix(342 291 -291 342 0 0)"/>
</g>
</g>
<g id="n-pol"><circle class="nb" cx="930" cy="152" r="24"/><line class="tk" x1="930" y1="152" x2="940" y2="139"/><text x="938" y="131" font-size="33">pol</text></g>
<g id="n-svk"><circle class="nb" cx="613" cy="204" r="15"/><line class="tk" x1="613" y1="204" x2="604" y2="214"/><text x="552" y="246" font-size="30">svk</text></g>
<g id="n-cze"><circle class="nb" cx="800" cy="265" r="19"/><line class="tk" x1="800" y1="265" x2="790" y2="276"/><text x="744" y="307" font-size="30">cze</text></g>
<g id="n-rou"><circle class="nb" cx="1089" cy="350" r="14"/><line class="tk" x1="1089" y1="350" x2="1096" y2="341"/><text x="1089" y="325" font-size="30">rou</text></g>
<g id="n-hrv"><circle class="nb" cx="654" cy="421" r="12"/><line class="tk" x1="654" y1="421" x2="662" y2="412"/><text x="663" y="402" font-size="28">hrv</text></g>
<g id="n-mlt"><circle class="nb" cx="491" cy="489" r="8"/><line class="tk" x1="491" y1="489" x2="484" y2="498"/><text x="433" y="532" font-size="30">mlt</text></g>
<g id="n-svn"><circle class="nb" cx="955" cy="495" r="13"/><line class="tk" x1="955" y1="495" x2="962" y2="486"/><text x="960" y="475" font-size="30">svn</text></g>
<g id="n-bgr"><circle class="nb" cx="778" cy="532" r="12"/><line class="tk" x1="778" y1="532" x2="786" y2="523"/><text x="786" y="512" font-size="29">bgr</text></g>
<g id="n-lva"><circle class="nb" cx="597" cy="619" r="11"/><line class="tk" x1="597" y1="619" x2="604" y2="610"/><text x="605" y="600" font-size="29">lva</text></g>
<g id="n-hun"><circle class="nb" cx="995" cy="676" r="15"/><line class="tk" x1="995" y1="676" x2="1002" y2="667"/><text x="998" y="658" font-size="29">hun</text></g>
<g id="n-cyp"><circle class="nb" cx="384" cy="703" r="11"/><line class="tk" x1="384" y1="703" x2="392" y2="693"/><text x="389" y="683" font-size="30">cyp</text></g>
<g id="n-ltu"><circle class="nb" cx="742" cy="688" r="11"/><line class="tk" x1="742" y1="688" x2="741" y2="703"/><text x="694" y="728" font-size="29">ltu</text></g>
<g id="n-est"><circle class="nb" cx="585" cy="801" r="11"/><line class="tk" x1="585" y1="801" x2="592" y2="792"/><text x="592" y="779" font-size="30">est</text></g>
<g id="n-ita"><line class="tk" x1="1378" y1="387" x2="1384" y2="378"/><text x="1382" y="369" font-size="58">ita</text></g>
<g id="n-irl"><circle class="nr" cx="218" cy="465" r="19"/><line class="tk" x1="218" y1="465" x2="226" y2="446"/><text x="235" y="444" font-size="28">irl</text></g>
<g id="n-aut"><circle class="nr" cx="1231" cy="649" r="24"/><line class="tk" x1="1231" y1="649" x2="1221" y2="662"/><text x="1171" y="695" font-size="33">aut</text></g>
<g id="n-esp"><circle class="nr" cx="1484" cy="745" r="38"/><line class="tk" x1="1484" y1="745" x2="1497" y2="732"/><text x="1478" y="723" font-size="51">esp</text></g>
<g id="n-lux"><circle class="nr" cx="166" cy="841" r="10"/><line class="tk" x1="166" y1="841" x2="172" y2="832"/><text x="172" y="824" font-size="30">lux</text></g>
<g id="n-grc"><circle class="nr" cx="786" cy="887" r="19"/><line class="tk" x1="786" y1="887" x2="777" y2="898"/><text x="730" y="927" font-size="29">grc</text></g>
<g id="n-fin"><circle class="nr" cx="409" cy="1006" r="21"/><line class="tk" x1="409" y1="1006" x2="411" y2="990"/><text x="421" y="988" font-size="28">fin</text></g>
<g id="n-prt"><circle class="nr" cx="988" cy="993" r="22"/><line class="tk" x1="988" y1="993" x2="989" y2="975"/><text x="997" y="971" font-size="31">prt</text></g>
<g id="n-dnk"><circle class="nr" cx="1254" cy="986" r="25"/><line class="tk" x1="1254" y1="986" x2="1267" y2="975"/><text x="1254" y="966" font-size="35">dnk</text></g>
<g id="n-bel"><circle class="nr" cx="665" cy="1167" r="27"/><line class="tk" x1="665" y1="1167" x2="676" y2="1156"/><text x="672" y="1145" font-size="35">bel</text></g>
<g id="n-nld"><circle class="nr" cx="1367" cy="1150" r="35"/><line class="tk" x1="1367" y1="1150" x2="1378" y2="1136"/><text x="1370" y="1130" font-size="46">nld</text></g>
<g id="n-swe"><circle class="nr" cx="1019" cy="1248" r="29"/><text x="944" y="1297" font-size="40">swe</text></g>
<g id="n-fra"><line class="tk" x1="363" y1="1292" x2="353" y2="1305"/><text x="280" y="1357" font-size="59">fra</text></g>
<g id="n-deu"><text x="696" y="1489" font-size="70">deu</text></g>
</svg>
